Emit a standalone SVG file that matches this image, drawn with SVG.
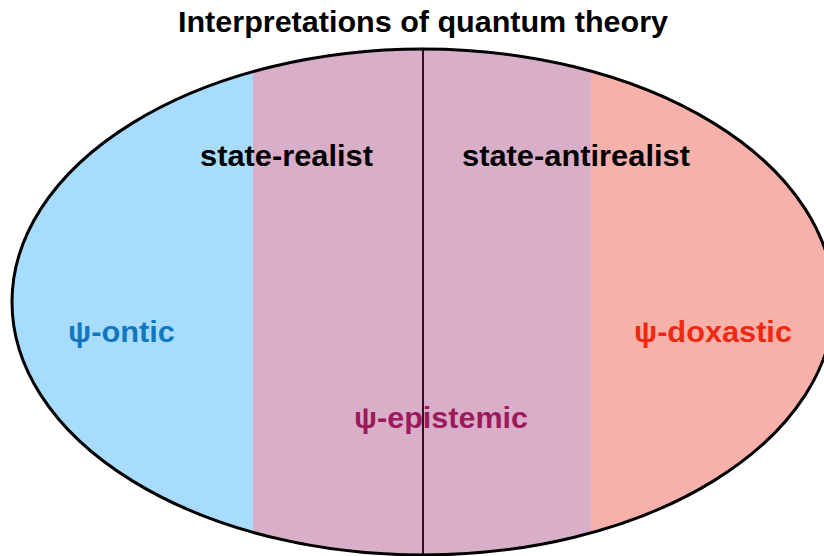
<svg xmlns="http://www.w3.org/2000/svg" width="824" height="556" viewBox="0 0 824 556">
<style>
text{font-family:"Liberation Sans",Arial,sans-serif;font-weight:bold;font-size:29px}
.c{text-anchor:middle}
</style>
<defs>
<clipPath id="ell"><ellipse cx="423" cy="302" rx="411" ry="253"/></clipPath>
</defs>
<rect width="824" height="556" fill="#fff"/>
<text class="c" x="423" y="32" textLength="490" lengthAdjust="spacingAndGlyphs">Interpretations of quantum theory</text>
<g id="regions" clip-path="url(#ell)">
<rect id="ontic" x="0" y="0" width="253" height="556" fill="#a8dcfe"/>
<rect id="epistemic" x="253" y="0" width="338" height="556" fill="#d9aec8"/>
<rect id="doxastic" x="591" y="0" width="233" height="556" fill="#f7b0aa"/>
</g>
<g id="connectors">
<line x1="423" y1="49" x2="423" y2="556" stroke="#3a0a22" stroke-width="2"/>
</g>
<ellipse id="outline" cx="423" cy="302" rx="411" ry="253" fill="none" stroke="#000" stroke-width="3"/>
<g id="labels">
<text class="c" x="286.5" y="166" textLength="173" lengthAdjust="spacingAndGlyphs">state-realist</text>
<text class="c" x="576" y="166" textLength="228" lengthAdjust="spacingAndGlyphs">state-antirealist</text>
<text class="c" x="121.5" y="342" fill="#1078c0" textLength="107" lengthAdjust="spacingAndGlyphs">ψ-ontic</text>
<text class="c" x="713" y="342" fill="#f02810" textLength="158" lengthAdjust="spacingAndGlyphs">ψ-doxastic</text>
<text class="c" x="441" y="428" fill="#9c1a5c" textLength="174" lengthAdjust="spacingAndGlyphs">ψ-epistemic</text>
</g>
</svg>
